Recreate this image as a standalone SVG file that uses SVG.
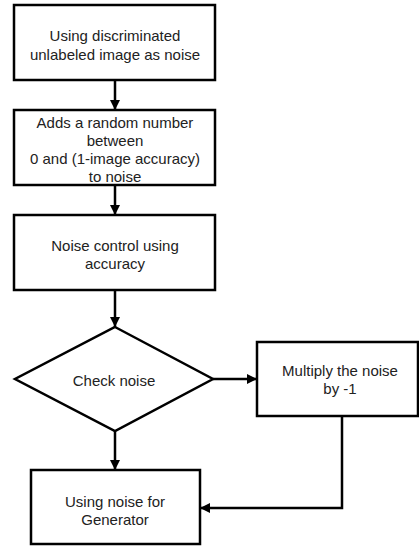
<svg xmlns="http://www.w3.org/2000/svg" width="419" height="546" viewBox="0 0 419 546">
<defs>
<marker id="ah" viewBox="0 0 10 10" refX="10" refY="5" markerWidth="4" markerHeight="4" orient="auto" markerUnits="strokeWidth">
<path d="M0,0 L10,5 L0,10 z" fill="#000"/>
</marker>
<style>
.box{fill:#fff;stroke:#000;stroke-width:2.5}
.t{font-family:"Liberation Sans",Arial,sans-serif;font-size:15px;fill:#222;text-anchor:middle;dominant-baseline:central}
.c{fill:none;stroke:#000;stroke-width:2.5;marker-end:url(#ah)}
</style>
</defs>
<rect width="419" height="546" fill="#fff"/>
<g id="connectors">
<path class="c" d="M115,80 V110"/>
<path class="c" d="M115,185 V215"/>
<path class="c" d="M115,290 V327"/>
<path class="c" d="M115,431 V470"/>
<path class="c" d="M213,379 H257"/>
<path class="c" d="M342,416 V508 H200"/>
</g>
<g id="n1">
<rect class="box" x="14" y="5" width="201" height="75"/>
<text class="t" x="115" y="35">Using discriminated</text>
<text class="t" x="115" y="54">unlabeled image as noise</text>
</g>
<g id="n2">
<rect class="box" x="14" y="110" width="201" height="75"/>
<text class="t" x="115" y="122">Adds a random number</text>
<text class="t" x="115" y="140">between</text>
<text class="t" x="115" y="158">0 and (1-image accuracy)</text>
<text class="t" x="115" y="176">to noise</text>
</g>
<g id="n3">
<rect class="box" x="14" y="215" width="201" height="75"/>
<text class="t" x="115" y="245">Noise control using</text>
<text class="t" x="115" y="263">accuracy</text>
</g>
<g id="n4">
<polygon class="box" points="115,327 213,379 115,431 15,379"/>
<text class="t" x="114" y="380">Check noise</text>
</g>
<g id="n5">
<rect class="box" x="257" y="342" width="161" height="74"/>
<text class="t" x="340" y="370">Multiply the noise</text>
<text class="t" x="340" y="388">by -1</text>
</g>
<g id="n6">
<rect class="box" x="31" y="470" width="169" height="74"/>
<text class="t" x="115" y="501">Using noise for</text>
<text class="t" x="115" y="519">Generator</text>
</g>
</svg>
